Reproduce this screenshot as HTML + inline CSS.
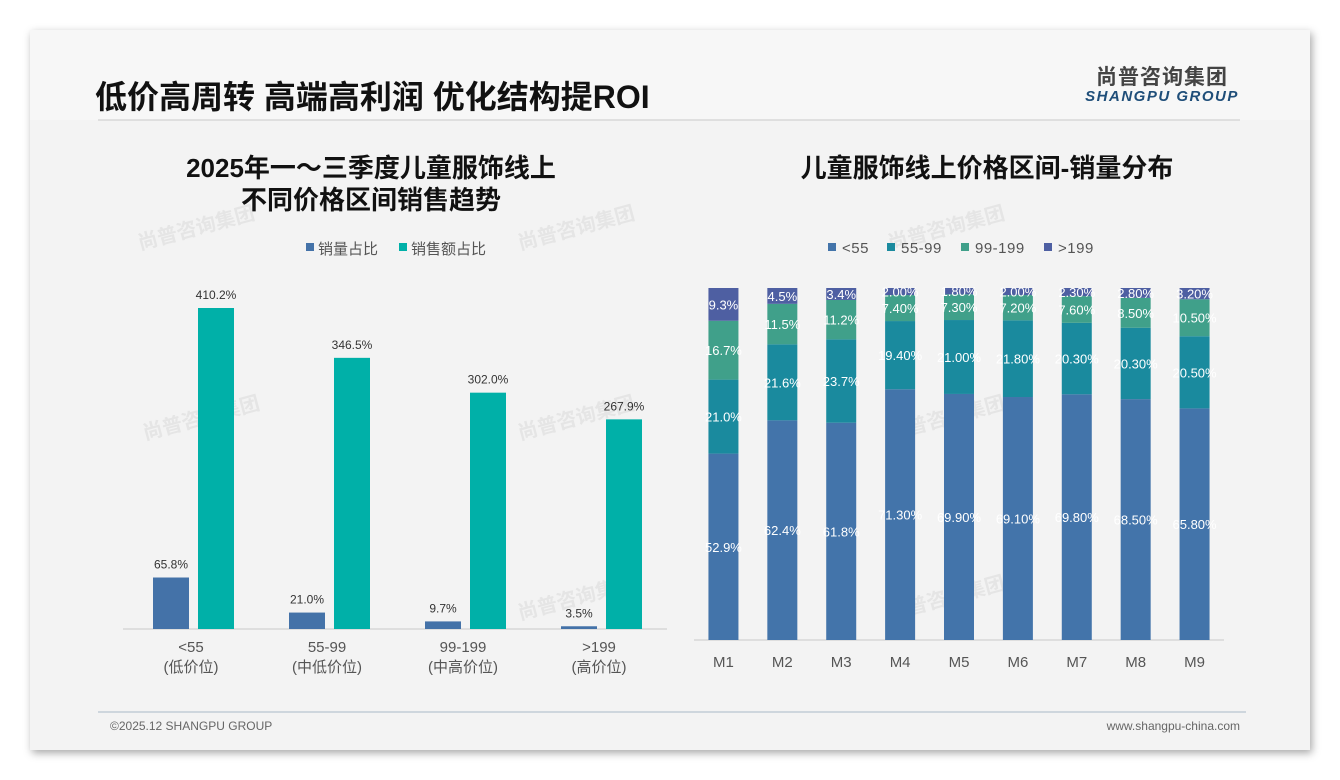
<!DOCTYPE html>
<html><head><meta charset="utf-8">
<style>
html,body{margin:0;padding:0;background:#fff;width:1340px;height:780px;overflow:hidden;font-family:"Liberation Sans","Noto Sans CJK SC",sans-serif;}
#card{position:absolute;left:30px;top:30px;width:1280px;height:720px;background:#f3f3f3;box-shadow:2px 3px 8px rgba(0,0,0,0.35);}
svg{position:absolute;left:0;top:0;}
</style></head><body>
<div id="card"></div>
<svg id="s" width="1340" height="780">
<rect x="30" y="30" width="1280" height="90" fill="#f7f7f7"/>
<text x="95" y="108" font-size="32" font-weight="bold" fill="#111">低价高周转 高端高利润 优化结构提ROI</text>
<line x1="98" y1="120" x2="1240" y2="120" stroke="#d8d8d8" stroke-width="1.5"/>
<text x="1162" y="84" font-size="21" font-weight="bold" fill="#444" text-anchor="middle" letter-spacing="1">尚普咨询集团</text>
<text x="1162" y="101" font-size="15" font-weight="bold" font-style="italic" fill="#1f4e79" text-anchor="middle" letter-spacing="1.5">SHANGPU GROUP</text>
<text x="371" y="177" font-size="26" font-weight="bold" fill="#111" text-anchor="middle">2025年一～三季度儿童服饰线上</text>
<text x="371" y="209" font-size="26" font-weight="bold" fill="#111" text-anchor="middle">不同价格区间销售趋势</text>
<text x="987" y="177" font-size="26" font-weight="bold" fill="#111" text-anchor="middle">儿童服饰线上价格区间-销量分布</text>
<g fill="#ccc" opacity="0.35" font-weight="bold" font-size="20">
<text transform="translate(140,250) rotate(-15)">尚普咨询集团</text>
<text transform="translate(520,250) rotate(-15)">尚普咨询集团</text>
<text transform="translate(890,250) rotate(-15)">尚普咨询集团</text>
<text transform="translate(145,440) rotate(-15)">尚普咨询集团</text>
<text transform="translate(520,440) rotate(-15)">尚普咨询集团</text>
<text transform="translate(890,440) rotate(-15)">尚普咨询集团</text>
<text transform="translate(520,620) rotate(-15)">尚普咨询集团</text>
<text transform="translate(890,620) rotate(-15)">尚普咨询集团</text>
</g>
<line x1="98" y1="712" x2="1246" y2="712" stroke="#b8c4d0" stroke-width="1.2"/>
<text x="110" y="730" font-size="12" fill="#666">©2025.12 SHANGPU GROUP</text>
<text x="1240" y="730" font-size="12" fill="#666" text-anchor="end">www.shangpu-china.com</text>
<g id="left"></g>
<g id="right"></g>
</svg>
<script>
const leftCats1 = ['<55','55-99','99-199','>199'];
const leftCats2 = ['(低价位)','(中低价位)','(中高价位)','(高价位)'];
const volShare = [65.8, 21.0, 9.7, 3.5];
const amtShare = [410.2, 346.5, 302.0, 267.9];
const leftSeries = ['销量占比','销售额占比'];

const months = ['M1','M2','M3','M4','M5','M6','M7','M8','M9'];
const seriesNames = ['<55','55-99','99-199','>199'];
const s1 = [52.9, 62.4, 61.8, 71.30, 69.90, 69.10, 69.80, 68.50, 65.80];
const s2 = [21.0, 21.6, 23.7, 19.40, 21.00, 21.80, 20.30, 20.30, 20.50];
const s3 = [16.7, 11.5, 11.2, 7.40, 7.30, 7.20, 7.60, 8.50, 10.50];
const s4 = [9.3, 4.5, 3.4, 2.00, 1.80, 2.00, 2.30, 2.80, 3.20];
const labels1 = ['52.9%','62.4%','61.8%','71.30%','69.90%','69.10%','69.80%','68.50%','65.80%'];
const labels2 = ['21.0%','21.6%','23.7%','19.40%','21.00%','21.80%','20.30%','20.30%','20.50%'];
const labels3 = ['16.7%','11.5%','11.2%','7.40%','7.30%','7.20%','7.60%','8.50%','10.50%'];
const labels4 = ['9.3%','4.5%','3.4%','2.00%','1.80%','2.00%','2.30%','2.80%','3.20%'];

const NS='http://www.w3.org/2000/svg';
function mk(tag, attrs, parent, txt){const e=document.createElementNS(NS,tag);for(const k in attrs)e.setAttribute(k,attrs[k]);if(txt!==undefined)e.textContent=txt;parent.appendChild(e);return e;}

// Left chart
const L=document.getElementById('left');
const lBase=629, lScale=321/410.2, lX0=123, lX1=667;
const lBand=(lX1-lX0)/leftCats1.length;
const ly=v=>lBase-v*lScale;
const lColors=['#4472a8','#00b0a8'];
let ax=mk('line',{x1:lX0,y1:lBase,x2:lX1,y2:lBase,stroke:'#c8c8c8'},L);


leftCats1.forEach((c,i)=>{
  const cx=lX0+lBand*(i+0.5);
  [volShare,amtShare].forEach((arr,j)=>{
    const x=cx-38+j*45, y=ly(arr[i]);
    const r=mk('rect',{x:x,y:y,width:36,height:lBase-y,fill:lColors[j]},L);
    
    
    const t=mk('text',{x:x+18,y:y-9,'font-size':12,fill:'#333','text-anchor':'middle'},L,arr[i].toFixed(1)+'%');
    
    
  });
  const t1=mk('text',{x:cx,y:652,'font-size':15,fill:'#555','text-anchor':'middle'},L,c);
  
  
  const t2=mk('text',{x:cx,y:672,'font-size':15,fill:'#555','text-anchor':'middle'},L,leftCats2[i]);
  
  
});
[[306,0],[399,1]].forEach(([x,j])=>{
  const r=mk('rect',{x:x,y:243,width:8,height:8,fill:lColors[j]},L);
  
  
  const t=mk('text',{x:x+12,y:254,'font-size':15,fill:'#555'},L,leftSeries[j]);
  
  
});

// Right chart
const R=document.getElementById('right');
const rBase=640, rTop=288, rX0=694, rX1=1224;
const rBand=(rX1-rX0)/months.length;
const rH=v=>v*(rBase-rTop)/100;
const rColors=['#4374aa','#1a8a9e','#40a08a','#4e5fa2'];
const series=[s1,s2,s3,s4], labs=[labels1,labels2,labels3,labels4];
ax=mk('line',{x1:rX0,y1:rBase,x2:rX1,y2:rBase,stroke:'#c8c8c8'},R);


months.forEach((m,i)=>{
  const cx=rX0+rBand*(i+0.5);
  let cum=0;
  const tot=s1[i]+s2[i]+s3[i]+s4[i];
  series.forEach((s,j)=>{
    const v=s[i]*100/tot;
    const y1=rBase-rH(cum+v), h=rH(v);
    const r=mk('rect',{x:cx-15,y:y1,width:30,height:h,fill:rColors[j]},R);
    
    
    const t=mk('text',{x:cx,y:y1+h/2+5,'font-size':13,fill:'#fff','text-anchor':'middle'},R,labs[j][i]);
    
    
    cum+=v;
  });
  const t=mk('text',{x:cx,y:667,'font-size':15,fill:'#555','text-anchor':'middle'},R,m);
  
  
});
[[828,0],[887,1],[961,2],[1044,3]].forEach(([x,j])=>{
  const r=mk('rect',{x:x,y:243,width:8,height:8,fill:rColors[j]},R);
  
  
  const t=mk('text',{x:x+14,y:253,'font-size':15,fill:'#555','letter-spacing':'0.5'},R,seriesNames[j]);
  
  
});
</script>
</body></html>
